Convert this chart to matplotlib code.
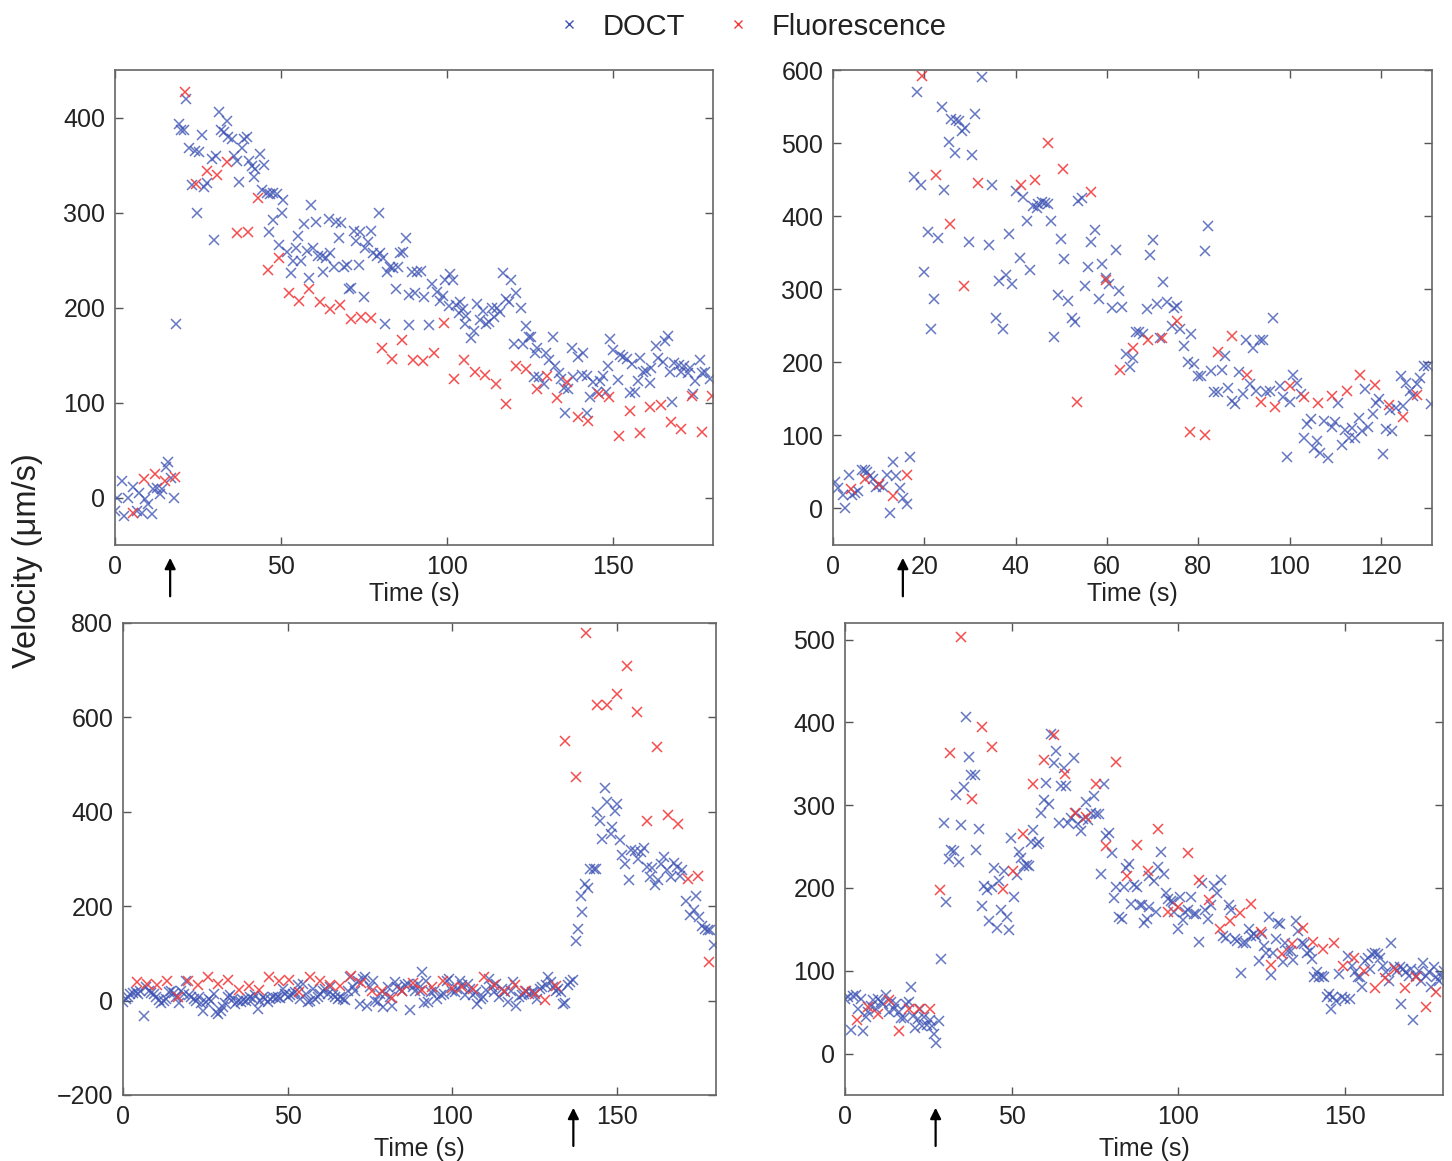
import matplotlib
matplotlib.use("Agg")
import matplotlib.pyplot as plt
from matplotlib.lines import Line2D

plt.rcParams['font.family'] = ['Liberation Sans', 'DejaVu Sans']

# ---------------- panel 1 (top left) ----------------
p1_doct_t = [0.5, 0, 2, 2.7, 4, 5.5, 6.5, 7.3, 8, 9,
             10, 11, 11.5, 12.5, 13.4, 14, 15.4, 16, 17, 17.8,
             18.4, 19.2, 20, 20.9, 21.4, 22.4, 23.1, 24.1, 24.6, 25.3,
             26.1, 26.9, 27.6, 29.1, 29.8, 30.4, 31.2, 31.8, 32.8, 33.6,
             34.1, 35.1, 35.8, 36.6, 37.4, 38.2, 38.9, 39.7, 40.2, 41.2,
             41.9, 42.2, 43.5, 44.2, 44.7, 45.7, 46.4, 46.7, 47.7, 47.7,
             48.7, 49.4, 50.2, 50.7, 51.7, 53, 53.5, 54.5, 55.2, 56,
             56.9, 57.7, 58.4, 59, 59.7, 60.5, 61.2, 62.2, 62.7, 63.4,
             64.3, 64.8, 65.8, 66.5, 67.3, 68, 68.8, 69.8, 70.3, 71,
             71.8, 72.6, 73.3, 73.8, 74.8, 75.3, 76.3, 77, 77.8, 78.8,
             79.4, 79.8, 80.6, 81.3, 82, 82.8, 83.8, 84.5, 85.3, 85.8,
             86.8, 87.5, 88.4, 88.6, 89.4, 90.4, 90.9, 92.1, 92.9, 94.4,
             95.4, 96.9, 97.7, 98.7, 99.4, 100.4, 100.9, 101.6, 102.7, 103.4,
             103.9, 104.7, 105.4, 105.7, 107.1, 108.1, 109.1, 109.9, 110.9, 111.7,
             112.7, 113.4, 114.1, 115.1, 115.9, 116.8, 117.6, 118.5, 119.3, 120,
             120.8, 122.2, 122.7, 123.6, 124.5, 125.3, 126, 126.5, 127, 127.5,
             129, 129.8, 130.5, 131.8, 132.5, 133.5, 134.3, 135, 135.5, 136.5,
             137.5, 138, 139.5, 140.5, 140.8, 142, 142.2, 143, 144, 145,
             146, 146.9, 147.9, 148.3, 149.1, 150, 151.3, 152, 153, 154,
             154.9, 155.6, 156.6, 157.3, 157.9, 158.9, 159.9, 160.9, 161.4, 162.7,
             163.4, 164.8, 165.7, 166.4, 167, 167.7, 168.4, 169.7, 170.5, 171.2,
             172.4, 173.2, 174, 174.7, 176, 176.7, 177.7, 179]
p1_doct_v = [0, -14, 17, -19, 0, 11, -14, 5, -16, -2,
             -7, -17, 9, 10, 4, 9, 32, 37, 21, 0,
             183, 393, 387, 387, 419, 368, 329, 365, 299, 364,
             382, 327, 331, 356, 271, 360, 406, 387, 385, 396,
             380, 377, 360, 354, 332, 368, 377, 380, 354, 349,
             337, 346, 362, 324, 350, 321, 280, 320, 321, 292,
             319, 266, 299, 313, 258, 236, 249, 263, 275, 249,
             288, 259, 231, 308, 263, 290, 254, 254, 237, 252,
             293, 257, 243, 290, 273, 289, 243, 245, 220, 221,
             281, 270, 245, 279, 211, 263, 269, 281, 257, 254,
             300, 257, 252, 183, 237, 243, 242, 219, 243, 257,
             258, 273, 182, 213, 237, 215, 237, 238, 211, 182,
             225, 216, 207, 212, 229, 202, 235, 229, 203, 194,
             206, 198, 183, 191, 168, 175, 204, 187, 196, 183,
             185, 199, 190, 199, 195, 236, 209, 206, 229, 162,
             215, 200, 162, 181, 169, 169, 127, 152, 157, 127,
             120, 152, 145, 169, 138, 131, 125, 115, 89, 114,
             157, 127, 148, 129, 152, 128, 89, 106, 122, 111,
             123, 128, 111, 138, 167, 155, 124, 150, 148, 146,
             110, 141, 111, 123, 147, 132, 133, 121, 136, 159,
             147, 143, 165, 170, 132, 101, 142, 139, 132, 138,
             131, 136, 109, 123, 145, 131, 132, 125]
p1_fl_t = [5.5, 8.8, 12, 14.9, 18,
           21, 24.3, 27.6, 30.6, 33.6, 36.7, 39.9, 43, 46.2, 49.3,
           52.4, 55.4, 58.5, 61.6, 64.8, 67.8, 71, 74, 77.2, 80.3,
           83.4, 86.5, 89.7, 92.7, 95.9, 98.9, 102.1, 105.2, 108.4, 111.4,
           114.7, 117.7, 120.8, 123.8, 127, 130, 133, 136.2, 139.4, 142.4,
           145.6, 148.6, 151.7, 154.9, 157.9, 161.1, 164.2, 167.4, 170.5, 173.7,
           176.7, 179.7]
p1_fl_v = [-16, 19, 25, 17, 22,
           427, 330, 344, 339, 353, 278, 280, 315, 239, 252,
           215, 207, 220, 206, 198, 203, 188, 190, 189, 157,
           146, 166, 145, 144, 152, 184, 125, 145, 132, 129,
           120, 98, 138, 135, 114, 128, 105, 122, 85, 81,
           109, 106, 65, 91, 68, 95, 97, 80, 72, 107,
           69, 107]

# ---------------- panel 2 (top right) ----------------
p2_doct_t = [0.4, 1.2, 2.1, 2.6, 3.5, 4.2, 4.8, 5.5, 6.3, 7,
             7.4, 8.1, 8.8, 9.4, 10.1, 10.9, 11.8, 12.5, 13.2, 13.9,
             14.7, 15.4, 16.3, 16.9,
             17.7, 18.3, 19.2, 20, 20.7, 21.5, 22.2, 22.9, 23.8, 24.4,
             25.3, 25.8, 26.7, 26.9, 27.7, 28.2, 28.9, 29.8, 30.4, 31.2,
             32.7, 34.2, 34.9, 35.7, 36.4, 37.2, 37.9, 38.6, 39.3, 40.1,
             41, 41.7, 42.4, 43.1, 43.9, 44.6, 45, 45.7, 46.4, 47.2,
             47.7, 48.5, 49.2, 49.9, 50.7, 51.4, 52.3, 53, 53.6, 54.5,
             55.2, 55.9, 56.6, 57.4, 58.2, 59, 59.7, 60.4, 61.2, 61.9,
             62.7, 63.4, 64.2, 65, 65.6, 66.3, 67.1, 67.8, 68.7, 69.4,
             70.1, 70.9, 71.6, 72.3, 73.1, 74.2, 74.7, 75.4, 76.1, 76.9,
             77.7, 78.4, 79.1, 79.9, 80.6, 81.5, 82.2, 82.8, 83.5, 84.4,
             85.1, 85.8, 86.6, 87.3, 88, 88.9, 89.7, 90.4, 91.3, 91.9,
             92.6, 93.5, 94.2, 94.8, 95.7, 96.4, 97.8, 98.6, 99.5, 100.2,
             100.8, 101.7, 102.5, 103.2, 103.9, 104.6, 105.3, 106.1, 106.6, 107.6,
             108.5, 109.2, 109.9, 110.7, 111.4, 112.1, 113.1, 113.7, 114.3, 115.2,
             115.9, 116.6, 117.2, 118.2, 118.9, 119.6, 120.4, 121.2, 122, 122.5,
             123.4, 124.4, 124.9, 125.6, 126.4, 127.1, 128, 128.6, 129.4, 130.4,
             131]
p2_doct_v = [36, 28, 18, 1, 46, 18, 21, 24, 53, 53,
             50, 44, 40, 30, 32, 30, 46, -6, 64, 44,
             28, 15, 6, 70,
             453, 570, 443, 323, 378, 245, 286, 370, 549, 436,
             502, 533, 487, 532, 530, 516, 521, 365, 484, 540,
             591, 361, 443, 261, 311, 246, 319, 375, 307, 435,
             343, 426, 394, 326, 414, 411, 417, 419, 418, 416,
             393, 235, 292, 369, 342, 284, 260, 255, 421, 425,
             305, 330, 364, 381, 286, 335, 316, 307, 275, 354,
             297, 276, 212, 193, 206, 242, 241, 239, 273, 347,
             368, 280, 233, 310, 283, 250, 275, 277, 246, 222,
             200, 239, 198, 181, 181, 353, 386, 188, 159, 159,
             190, 209, 165, 147, 143, 187, 157, 230, 170, 220,
             161, 230, 230, 159, 161, 261, 167, 152, 71, 146,
             183, 172, 157, 97, 116, 122, 83, 92, 76, 120,
             69, 111, 119, 144, 87, 108, 96, 110, 96, 124,
             106, 164, 112, 129, 144, 150, 75, 109, 135, 106,
             138, 181, 140, 172, 161, 154, 170, 179, 195, 195,
             143]
p2_fl_t = [3.9, 7, 10.1, 13.1, 16.3,
           19.4, 22.5, 25.6, 28.6, 31.7, 41.2, 44.2, 47.2, 50.4, 53.5,
           56.6, 59.7, 62.8, 65.8, 69.1, 72.1, 75.3, 78.3, 81.5, 84.4,
           87.5, 90.6, 93.7, 96.9, 100.1, 103.1, 106.3, 109.3, 112.5, 115.5,
           118.7, 121.8, 124.9, 128]
p2_fl_v = [27, 40, 34, 17, 46,
           592, 456, 389, 305, 445, 442, 450, 500, 465, 146,
           433, 312, 189, 219, 231, 233, 257, 105, 101, 214,
           236, 183, 146, 139, 167, 152, 145, 154, 161, 182,
           169, 141, 125, 155]

# ---------------- panel 3 (bottom left) ----------------
p3_doct_t = [0, 0.8, 1.5, 2.2, 3, 3.8, 4.5, 5.3, 6.3, 6.9,
             7.9, 8.6, 9.3, 10.1, 10.9, 11.6, 12.3, 13.1, 13.9, 14.6,
             15.5, 16.2, 16.9, 17.7, 18.4, 19.2, 20, 20.7, 21.4, 22.2,
             23, 23.7, 24.4, 25.3, 26.1, 26.8, 27.5, 28.1, 28.8, 29.6,
             30.3, 31.1, 31.8, 32.5, 33.3, 34.1, 34.8, 35.7, 36.4, 37.2,
             37.9, 38.6, 39.4, 40.2, 40.9, 41.6, 42.4, 43.2, 43.9, 44.6,
             45.5, 46.3, 47, 47.7, 48.5, 49.3, 50, 50.7, 51.5, 52.3,
             53, 53.7, 54.5, 55.4, 56.1, 56.8, 57.6, 58.4, 59.1, 59.8,
             60.6, 61.4, 62.1, 62.8, 63.6, 64.4, 65.2, 65.9, 66.7, 67.5,
             68.2, 68.9, 69.7, 70.5, 71.2, 71.9, 72.7, 73.5, 74.2, 75,
             75.8, 76.6, 77.3, 78, 78.8, 79.6, 80.3, 81, 81.8, 82.6,
             83.3, 84, 84.8, 85.7, 86.4, 87.2, 87.9, 88.7, 89.4, 90.1,
             90.9, 91.4, 91.9,
             92.7, 93.4, 94.4, 95.4, 96.5, 97.5, 98.2, 99, 99.8, 100.8,
             101.5, 102.2, 103, 103.8, 104.6, 105.4, 106.3, 107.1, 107.6, 108.6,
             109.3, 110.3, 111.1, 111.9, 112.6, 113.3, 114.1, 114.9, 115.9, 116.9,
             117.7, 118.4, 119.4, 120.2, 121, 121.7, 122.4, 123.2, 124, 124.7,
             125.7, 126.6, 127.3, 128.3, 129.1, 129.8, 130.5, 131.3, 132.1, 132.8,
             133.5, 134.3, 135.1, 135.8, 136.6,
             137.4, 138.1, 138.9, 139.4, 140.2, 141.1, 141.9, 142.9, 143.6, 143.9,
             144.7, 145.4, 146.3, 147, 148, 148.5, 149.3, 150, 151, 151.5,
             152.5, 153.5, 154.2, 155.4, 156.4, 157.2, 158, 159, 160.1, 160.6,
             161.6, 162.4, 163.2, 164.1, 165.2, 166.2, 167.2, 168.2, 169.2, 169.7,
             170.9, 172.2, 173.2, 173.9, 174.9, 175.8, 176.6, 177.6, 178.3, 179.3]
p3_doct_v = [-4, 4, 8, 14, 16, 18, 14, 21, -32, 28,
             21, 16, 14, 7, 1, -6, 0, 4, 18, 21,
             16, 8, -6, 21, 14, 41, 11, 7, 4, -1,
             7, -6, -21, -4, 4, 0, 14, -25, -28, -21,
             -14, -6, 7, 11, 4, -8, 0, -4, 1, -1,
             4, 7, 4, 11, -18, 0, 7, 4, -4, 4,
             7, 6, 8, 6, 25, 14, 7, 11, 14, 18,
             32, 4, 35, 14, -4, 0, 25, 4, 7, 14,
             21, 25, 14, 28, 11, 7, 4, 8, 4, 1,
             21, 51, 28, 21, 42, -7, 46, 50, -11, 28,
             41, 0, -4, 14, -14, 14, 28, 7, -11, 39,
             28, 25, 21, 32, 35, -20, 28, 21, 35, 21,
             60, -6, 42,
             -4, 18, 21, 4, 11, 14, 42, 46, 21, 18,
             25, 42, 32, 11, 35, 25, 11, 18, -7, 4,
             7, 23, 46, 28, 18, 35, 7, 25, 18, -4,
             21, 39, -11, 7, 11, 14, 21, 14, 18, 18,
             4, 25, 28, 32, 50, 39, 28, 21, 25, 18,
             -8, -6, 32, 39, 44,
             127, 152, 221, 188, 246, 239, 278, 278, 278, 399,
             380, 342, 451, 421, 353, 368, 401, 416, 340, 308,
             289, 255, 319, 317, 299, 315, 324, 282, 262, 280,
             244, 255, 290, 304, 276, 262, 292, 283, 265, 276,
             211, 181, 193, 221, 178, 159, 152, 149, 150, 117]
p3_fl_t = [4.2, 7.3, 10.3, 13.4, 16.6, 19.7, 22.7, 25.9, 28.8, 32,
           35.2, 38.2, 41.4, 44.4, 47.5, 50.5, 53.5, 56.8, 59.8, 62.9,
           65.9, 69.2, 72.2, 75.5, 78.6, 81.6, 84.6, 87.9, 90.9, 93.7,
           97, 100, 103, 106.3, 109.6, 112.6, 115.7, 119, 122, 125.1,
           128.1, 131.3, 134.3, 137.4, 140.4, 143.8, 146.8, 149.8, 153, 156,
           159, 162.2, 165.4, 168.5, 171.5, 174.5, 177.8]
p3_fl_v = [39, 35, 32, 41, 8, 41, 32, 50, 35, 44,
           23, 30, 23, 50, 41, 44, 18, 50, 42, 32,
           30, 53, 37, 20, 20, 6, 20, 37, 23, 28,
           42, 27, 28, 25, 50, 32, 21, 34, 21, 14,
           1, 30, 549, 474, 779, 627, 627, 650, 709, 612,
           381, 538, 393, 375, 258, 263, 81]

# ---------------- panel 4 (bottom right) ----------------
p4_doct_t = [0, 1, 1.7, 2.5, 3.3, 4, 4.7, 5.5, 6.3, 7,
             7.7, 8.5, 9.3, 10, 10.7, 11.5, 12.3, 13.1, 13.8, 14.6,
             15.4, 16.1, 16.8, 17.6, 18.4, 19.1, 19.8, 20.4, 21.1, 21.8,
             22.4, 23.1, 23.8, 24.6, 25.4, 26.1, 26.8, 27.4, 28.1,
             28.9, 29.6, 30.3, 31.1, 31.8, 32.8, 33.4, 34.1, 34.9, 35.6,
             36.4, 37.1, 37.9, 38.9, 39.4, 40.2, 41, 41.7, 42.5, 43.2,
             44, 44.7, 45.5, 46.2, 46.9, 47.7, 48.5, 49.2, 49.9, 50.7,
             51.5, 52.2, 52.9, 53.7, 54.5, 55.2, 55.7, 56.5, 57.5, 58.2,
             58.7, 59.7, 60.4, 61.2, 61.7, 62.6, 63.3, 64.3, 64.9, 65.8,
             66.3, 67, 67.8, 68.8, 69.3, 70, 70.8, 71.3, 72.3, 73,
             73.8, 74.6, 75.3, 76.3, 76.8, 77.6, 78.3, 79.3, 80, 80.6,
             81.3, 82.3, 83, 83.8, 84.3, 85.1, 85.8, 86.8, 87.7, 88.4,
             89.1, 89.9, 90.7, 91.4,
             91.4, 92.9, 93.4, 94.1, 95, 95.7, 96.4, 97.1, 97.9, 98.4,
             98.9, 99.9, 100.7, 101.4, 102.1, 103.1, 103.9, 104.7, 105.4, 106.2,
             107.1, 108.1, 108.9, 109.9, 110.9, 111.7, 112.8, 113.5, 114.4, 115.2,
             116, 117, 117.8, 118.8, 119.5, 120.5, 121.2, 122, 122.8, 123.5,
             124.3, 125.2, 125.8, 126.5, 127.2, 128, 128.5, 129.3, 130, 130.7,
             131.5, 132.2, 133, 133.8, 134.5, 135.3, 136.1, 137.1, 137.9, 138.6,
             139.6, 140.3, 140.9, 141.6, 142.3, 143.1, 143.9, 144.8, 145.4, 145.9,
             146.6, 147.4, 148.3, 149.1, 150.1, 150.9, 151.6, 152.3, 153.1, 153.9,
             154.6, 155.3, 156.1, 156.9, 157.6, 158.3, 159.1, 159.9, 160.6, 161.6,
             162.4, 163.2, 164, 164.7, 165.7, 166.5, 167, 167.6, 168.3, 169.2,
             170, 170.6, 171.4, 172.2, 173, 173.6, 174.4, 175.2, 176, 176.7,
             177.4, 178.2, 179, 179.7]
p4_doct_v = [66, 68, 29, 70, 71, 54, 66, 27, 44, 50,
             58, 65, 54, 66, 62, 60, 71, 50, 62, 54,
             60, 50, 43, 43, 60, 62, 80, 46, 31, 42,
             54, 33, 44, 35, 40, 33, 24, 13, 39,
             114, 279, 183, 235, 246, 245, 312, 231, 276, 322,
             407, 358, 337, 337, 246, 271, 178, 202, 197, 160,
             201, 224, 152, 208, 174, 221, 165, 149, 260, 189,
             216, 244, 236, 227, 228, 227, 256, 270, 253, 256,
             290, 306, 327, 302, 386, 351, 365, 279, 323, 345,
             323, 279, 285, 357, 290, 277, 269, 283, 304, 282,
             290, 311, 289, 289, 217, 325, 263, 266, 242, 188,
             201, 165, 162, 201, 224, 229, 181, 203, 201, 180,
             179, 158, 163, 177,
             214, 209, 171, 225, 244, 217, 194, 187, 184, 183,
             171, 150, 189, 161, 171, 173, 189, 168, 169, 135,
             206, 173, 163, 179, 202, 194, 210, 142, 140, 179,
             173, 138, 136, 97, 133, 134, 150, 142, 144, 142,
             112, 145, 130, 122, 165, 95, 122, 138, 158, 156,
             111, 134, 124, 124, 113, 160, 148, 134, 132, 122,
             124, 114, 92, 98, 92, 94, 93, 68, 72, 54,
             68, 64, 96, 68, 66, 118, 66, 106, 98, 93,
             92, 81, 112, 116, 102, 120, 122, 120, 116, 106,
             98, 88, 134, 104, 100, 104, 60, 102, 99, 94,
             102, 40, 94, 100, 88, 110, 94, 98, 80, 104,
             92, 88, 94, 100]
p4_fl_t = [3.7, 7, 10, 13.1, 16.1, 19.3, 22.3, 25.4,
           28.6, 31.6, 34.8, 38, 41.1, 44.2, 47.3, 50.4, 53.5, 56.5,
           59.7, 62.7, 66, 69, 72.2, 75.3, 78.3, 81.4, 84.5, 87.7,
           90.9, 93.9, 96.9, 99.9, 103.1, 106.2, 109.4, 112.5, 115.5, 118.7,
           121.8, 125, 128, 131.2, 134.3, 137.4, 140.5, 143.5, 146.8, 149.6,
           152.8, 155.9, 159, 162.2, 165.1, 168.2, 171.4, 174.3, 177.4]
p4_fl_v = [40, 56, 48, 65, 27, 54, 54, 54,
           197, 363, 503, 308, 395, 370, 199, 221, 265, 325,
           355, 385, 338, 291, 286, 325, 251, 352, 214, 252,
           221, 271, 171, 177, 242, 210, 185, 150, 160, 170,
           181, 147, 107, 120, 132, 152, 135, 126, 134, 106,
           116, 100, 79, 91, 102, 79, 92, 56, 74]

# axis setup per panel
p1_xticks, p1_yticks = [0, 50, 100, 150], [0, 100, 200, 300, 400]
p2_xticks, p2_yticks = [0, 20, 40, 60, 80, 100, 120], [0, 100, 200, 300, 400, 500, 600]
p3_xticks, p3_yticks = [0, 50, 100, 150], [-200, 0, 200, 400, 600, 800]
p4_xticks, p4_yticks = [0, 50, 100, 150], [0, 100, 200, 300, 400, 500]
arrow_t = [16.6, 15.3, 136.7, 27.2]

blue = '#3f54b4'
red = '#f23a3a'

fig = plt.figure(figsize=(14.52, 11.61), dpi=100)
W, H = 1452, 1161


def add_ax(l, r, t, b):
    return fig.add_axes([l / W, (H - b) / H, (r - l) / W, (b - t) / H])


panels = [
    (add_ax(115, 713, 70, 545), p1_doct_t, p1_doct_v, p1_fl_t, p1_fl_v,
     (0, 180), (-50, 450), p1_xticks, p1_yticks, arrow_t[0], 2.5),
    (add_ax(833, 1432, 70, 545), p2_doct_t, p2_doct_v, p2_fl_t, p2_fl_v,
     (0, 131.2), (-50, 600), p2_xticks, p2_yticks, arrow_t[1], 2.5),
    (add_ax(123, 716, 623, 1095), p3_doct_t, p3_doct_v, p3_fl_t, p3_fl_v,
     (0, 180), (-200, 800), p3_xticks, p3_yticks, arrow_t[2], 6),
    (add_ax(845, 1443, 623, 1095), p4_doct_t, p4_doct_v, p4_fl_t, p4_fl_v,
     (0, 179.5), (-50, 520), p4_xticks, p4_yticks, arrow_t[3], 6),
]

for ax, dt, dv, ft, fv, xl, yl, xt, yt, at, lp in panels:
    ax.plot(dt, dv, 'x', color=blue, ms=6.8, mew=1.1, alpha=0.8)
    ax.plot(ft, fv, 'x', color=red, ms=6.8, mew=1.1, alpha=0.9)
    ax.set_xlim(*xl)
    ax.set_ylim(*yl)
    ax.set_xticks(xt)
    ax.set_yticks(yt)
    ax.tick_params(direction='in', top=True, right=True, length=6, width=1,
                   color='#555555', labelsize=18, labelcolor='#222222', pad=7)
    for s in ax.spines.values():
        s.set_color('#666666')
        s.set_linewidth(1.2)
    ax.set_xlabel('Time (s)', fontsize=18, color='#222222', labelpad=lp)
    ax.annotate('', xy=(at, -0.027), xycoords=('data', 'axes fraction'),
                xytext=(at, -0.108), textcoords=('data', 'axes fraction'),
                arrowprops=dict(arrowstyle='-|>', color='black', lw=1.6,
                                mutation_scale=16, shrinkA=0, shrinkB=0),
                annotation_clip=False)

fig.text(0.0186, 0.517, 'Velocity (\u03bcm/s)', rotation=90, va='center', ha='center',
         fontsize=23.5, color='#222222')

handles = [Line2D([], [], ls='none', marker='x', color=blue, ms=5.5, mew=1),
           Line2D([], [], ls='none', marker='x', color=red, ms=5.5, mew=1)]
fig.legend(handles, ['DOCT', 'Fluorescence'], loc='center', bbox_to_anchor=(0.517, 0.977),
           ncol=2, frameon=False, fontsize=21, handlelength=1.0, handletextpad=0.65,
           columnspacing=1.3, borderpad=0, labelcolor='#222222')

fig.savefig('out.png', dpi=100)
